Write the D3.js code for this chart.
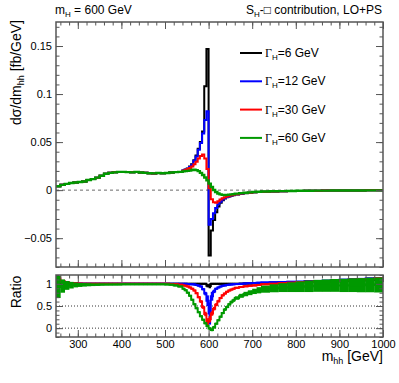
<!DOCTYPE html>
<html>
<head>
<meta charset="utf-8">
<script src="https://cdn.jsdelivr.net/npm/d3@7"></script>
<style>
  body { margin: 0; background: #fff; }
  text { font-family: "Liberation Sans", Arial, sans-serif; }
</style>
</head>
<body>
<script>
// bin low edges (GeV), last edge = 1000
let binLo = [].concat(
    d3.range(250, 540, 10),
    d3.range(540, 660, 5),
    d3.range(660, 720, 10),
    d3.range(720, 1000, 20));
let xMax = 1000;

let seriesNames = ["6", "12", "30", "60"];
let seriesColors = ["#000000", "#0000ff", "#ff0000", "#009900"];

// dsigma/dm_hh [fb/GeV]
let width6 = [
    0.004, 0.0055, 0.0065, 0.0075, 0.008, 0.0085, 0.009, 0.0105, 0.0115, 0.013, 0.015, 0.017, 0.018, 0.0185, 0.019,
    0.019, 0.0188, 0.0185, 0.019, 0.0183, 0.018, 0.0176, 0.0174, 0.0178, 0.0175, 0.0179, 0.0183, 0.0188, 0.019,
    0.0205, 0.0215, 0.0225, 0.0245, 0.027, 0.031, 0.036, 0.043, 0.05, 0.061, 0.108, 0.147,
    -0.068, -0.042, -0.031, -0.023, -0.017, -0.013, -0.0105, -0.0088, -0.0075, -0.0065, -0.0058, -0.0052,
    -0.0045, -0.0038, -0.0032, -0.0027, -0.0023, -0.002,
    -0.0017, -0.0014, -0.0012, -0.001, -0.0008, -0.0007, -0.0006, -0.0005, -0.0004, -0.0004, -0.0003, -0.0003, -0.0002, -0.0002];
let width12 = [
    0.004, 0.0055, 0.0065, 0.0075, 0.008, 0.0085, 0.009, 0.0105, 0.0115, 0.013, 0.015, 0.017, 0.018, 0.0185, 0.019,
    0.019, 0.0188, 0.0185, 0.019, 0.0183, 0.018, 0.0176, 0.0174, 0.0178, 0.0175, 0.0179, 0.0183, 0.0188, 0.019,
    0.0205, 0.0213, 0.0222, 0.024, 0.0265, 0.0305, 0.035, 0.042, 0.049, 0.059, 0.073, 0.082,
    -0.036, -0.03, -0.024, -0.0185, -0.0148, -0.012, -0.0098, -0.0083, -0.0072, -0.0063, -0.0056, -0.005,
    -0.0044, -0.0037, -0.0031, -0.0026, -0.0022, -0.0019,
    -0.0016, -0.0014, -0.0012, -0.001, -0.0008, -0.0007, -0.0006, -0.0005, -0.0004, -0.0004, -0.0003, -0.0003, -0.0002, -0.0002];
let width30 = [
    0.004, 0.0055, 0.0065, 0.0075, 0.008, 0.0085, 0.009, 0.0105, 0.0115, 0.013, 0.015, 0.017, 0.018, 0.0185, 0.019,
    0.019, 0.0188, 0.0185, 0.019, 0.0183, 0.018, 0.0176, 0.0174, 0.0178, 0.0175, 0.0179, 0.0183, 0.0188, 0.019,
    0.0202, 0.021, 0.022, 0.023, 0.0245, 0.027, 0.0295, 0.033, 0.0355, 0.037, 0.033, 0.022,
    0.002, -0.0095, -0.0125, -0.013, -0.0115, -0.0098, -0.0085, -0.0074, -0.0065, -0.0058, -0.0052, -0.0047,
    -0.0042, -0.0036, -0.003, -0.0026, -0.0022, -0.0019,
    -0.0016, -0.0013, -0.0011, -0.001, -0.0008, -0.0007, -0.0006, -0.0005, -0.0004, -0.0004, -0.0003, -0.0003, -0.0002, -0.0002];
let width60 = [
    0.004, 0.0055, 0.0065, 0.0075, 0.008, 0.0085, 0.009, 0.0105, 0.0115, 0.013, 0.015, 0.017, 0.018, 0.0185, 0.019,
    0.019, 0.0188, 0.0185, 0.019, 0.0183, 0.018, 0.0176, 0.0174, 0.0178, 0.0175, 0.0179, 0.0183, 0.0188, 0.019,
    0.0195, 0.0198, 0.02, 0.0203, 0.021, 0.0212, 0.0208, 0.0198, 0.018, 0.0158, 0.0132, 0.0102,
    0.0068, 0.0032, 0.0002, -0.002, -0.0035, -0.0044, -0.0049, -0.005, -0.0049, -0.0047, -0.0044, -0.0041,
    -0.0036, -0.0031, -0.0027, -0.0023, -0.002, -0.0017,
    -0.0014, -0.0012, -0.001, -0.0009, -0.0007, -0.0006, -0.0005, -0.0005, -0.0004, -0.0003, -0.0003, -0.0003, -0.0002, -0.0002];

// ratio panel: central values and half widths of the bands
let ratio6 = [
    1.05, 1.02, 1.01, 1.005, 1, 1, 1, 1, 1, 1, 1, 1, 1, 1, 1,
    1, 1, 1, 1, 1, 1, 1, 1, 1, 1, 1, 1, 1, 1,
    1, 1, 1, 1, 1, 1, 1, 1, 1, 1, 1, 0.96,
    0.95, 1, 1, 1, 1, 1, 1, 1, 1, 1, 1, 1,
    1, 1.005, 1.01, 1.01, 1.015, 1.02,
    1.02, 1.025, 1.03, 1.035, 1.04, 1.045, 1.05, 1.055, 1.06, 1.07, 1.075, 1.08, 1.09, 1.1];
let err6 = [
    0.04, 0.02, 0.015, 0.01, 0.008, 0.008, 0.008, 0.008, 0.008, 0.008, 0.008, 0.008, 0.008, 0.008, 0.008,
    0.008, 0.008, 0.008, 0.008, 0.008, 0.008, 0.008, 0.008, 0.008, 0.008, 0.008, 0.008, 0.008, 0.008,
    0.008, 0.008, 0.008, 0.008, 0.008, 0.008, 0.008, 0.008, 0.008, 0.01, 0.02, 0.04,
    0.05, 0.02, 0.01, 0.008, 0.008, 0.008, 0.008, 0.008, 0.008, 0.008, 0.008, 0.008,
    0.01, 0.01, 0.01, 0.01, 0.01, 0.01,
    0.012, 0.012, 0.012, 0.014, 0.014, 0.014, 0.015, 0.015, 0.015, 0.016, 0.016, 0.018, 0.018, 0.02];
let ratio12 = [
    1.1, 1.05, 1.03, 1.015, 1.01, 1.005, 1, 1, 1, 1, 1, 1, 1, 1, 1,
    1, 1, 1, 1, 1, 1, 1, 1, 1, 1, 1, 1, 1, 1,
    1, 1, 0.995, 0.99, 0.99, 0.985, 0.975, 0.96, 0.94, 0.88, 0.78, 0.62,
    0.33, 0.72, 0.83, 0.89, 0.92, 0.94, 0.955, 0.965, 0.975, 0.98, 0.985, 0.99,
    0.995, 1, 1.01, 1.015, 1.02, 1.025,
    1.03, 1.035, 1.04, 1.045, 1.05, 1.06, 1.065, 1.07, 1.08, 1.09, 1.1, 1.11, 1.12, 1.13];
let err12 = [
    0.05, 0.03, 0.02, 0.015, 0.01, 0.01, 0.01, 0.01, 0.01, 0.01, 0.01, 0.01, 0.01, 0.01, 0.01,
    0.01, 0.01, 0.01, 0.01, 0.01, 0.01, 0.01, 0.01, 0.01, 0.01, 0.01, 0.01, 0.01, 0.01,
    0.01, 0.01, 0.01, 0.01, 0.01, 0.012, 0.012, 0.015, 0.02, 0.025, 0.04, 0.12,
    0.25, 0.1, 0.04, 0.02, 0.015, 0.015, 0.015, 0.015, 0.015, 0.015, 0.015, 0.015,
    0.015, 0.015, 0.018, 0.018, 0.02, 0.02,
    0.02, 0.02, 0.02, 0.02, 0.02, 0.022, 0.022, 0.022, 0.022, 0.025, 0.025, 0.025, 0.025, 0.025];
let ratio30 = [
    1.12, 1.06, 1.03, 1.015, 1.01, 1.005, 1, 1, 1, 1, 1, 1, 1, 1, 1,
    1, 1, 1, 1, 1, 1, 1, 1, 1, 1, 1, 0.995, 0.99, 0.98,
    0.965, 0.955, 0.94, 0.92, 0.89, 0.85, 0.79, 0.7, 0.6, 0.47, 0.32, 0.14,
    0.2, 0.33, 0.44, 0.53, 0.61, 0.68, 0.74, 0.78, 0.82, 0.85, 0.87, 0.89,
    0.91, 0.93, 0.945, 0.955, 0.965, 0.975,
    0.99, 1, 1.015, 1.025, 1.035, 1.045, 1.055, 1.06, 1.07, 1.08, 1.09, 1.1, 1.11, 1.12];
let err30 = [
    0.06, 0.03, 0.02, 0.015, 0.012, 0.012, 0.012, 0.012, 0.012, 0.012, 0.012, 0.012, 0.012, 0.012, 0.012,
    0.012, 0.012, 0.012, 0.012, 0.012, 0.012, 0.012, 0.012, 0.012, 0.012, 0.012, 0.012, 0.012, 0.012,
    0.015, 0.015, 0.015, 0.015, 0.02, 0.02, 0.02, 0.025, 0.03, 0.035, 0.05, 0.08,
    0.07, 0.05, 0.04, 0.035, 0.03, 0.025, 0.025, 0.02, 0.02, 0.02, 0.02, 0.02,
    0.02, 0.02, 0.02, 0.02, 0.02, 0.02,
    0.02, 0.02, 0.02, 0.022, 0.022, 0.022, 0.022, 0.025, 0.025, 0.025, 0.025, 0.025, 0.025, 0.025];
let ratio60 = [
    0.93, 0.95, 0.965, 0.97, 0.975, 0.975, 0.978, 0.98, 0.98, 0.982, 0.984, 0.985, 0.986, 0.987, 0.988,
    0.99, 0.99, 0.99, 0.99, 0.99, 0.99, 0.99, 0.99, 0.99, 0.99, 0.988, 0.98, 0.965, 0.94,
    0.89, 0.855, 0.8, 0.73, 0.64, 0.54, 0.45, 0.36, 0.27, 0.19, 0.11, 0.05,
    -0.01, -0.04, 0.02, 0.1, 0.18, 0.26, 0.34, 0.42, 0.48, 0.54, 0.59, 0.63,
    0.68, 0.73, 0.77, 0.8, 0.83, 0.855,
    0.88, 0.9, 0.915, 0.925, 0.935, 0.945, 0.955, 0.96, 0.965, 0.965, 0.97, 0.97, 0.975, 0.975];
let err60 = [
    0.25, 0.15, 0.1, 0.075, 0.055, 0.045, 0.04, 0.035, 0.03, 0.028, 0.025, 0.022, 0.02, 0.02, 0.018,
    0.018, 0.018, 0.018, 0.018, 0.018, 0.018, 0.018, 0.018, 0.018, 0.018, 0.018, 0.018, 0.018, 0.018,
    0.02, 0.02, 0.02, 0.02, 0.02, 0.02, 0.02, 0.02, 0.02, 0.02, 0.025, 0.03,
    0.03, 0.03, 0.03, 0.025, 0.025, 0.025, 0.025, 0.03, 0.03, 0.03, 0.035, 0.035,
    0.04, 0.045, 0.05, 0.055, 0.06, 0.07,
    0.08, 0.09, 0.1, 0.11, 0.12, 0.13, 0.135, 0.14, 0.145, 0.15, 0.155, 0.16, 0.165, 0.17];

let mainValues = [width6, width12, width30, width60];
let ratioValues = [ratio6, ratio12, ratio30, ratio60];
let ratioErrors = [err6, err12, err30, err60];

let xMajor = [300, 400, 500, 600, 700, 800, 900, 1000];
let xMinor = d3.range(260, 1000, 20);
let yMajor = [-0.05, 0, 0.05, 0.1, 0.15];
let yMinor = d3.range(-0.08, 0.176, 0.01);
let rMajor = [0, 0.5, 1];
let rMinor = d3.range(-0.2, 1.21, 0.1);

let w = 399, h = 383;
let left = 56, right = 383;
let topY0 = 22, topY1 = 267;
let ratY0 = 275, ratY1 = 337;

let svg = d3.select("body").append("svg")
    .attr("width", w)
    .attr("height", h);

let x = d3.scaleLinear().domain([250, 1000]).range([left, right]);
let y = d3.scaleLinear().domain([-0.08, 0.175]).range([topY1, topY0]);
let yr = d3.scaleLinear().domain([-0.2, 1.2]).range([ratY1, ratY0]);

svg.append("clipPath").attr("id", "clipTop")
    .append("rect").attr("x", left).attr("y", topY0).attr("width", right - left).attr("height", topY1 - topY0);
svg.append("clipPath").attr("id", "clipRat")
    .append("rect").attr("x", left).attr("y", ratY0).attr("width", right - left).attr("height", ratY1 - ratY0);

let binHi = function(i) { return i + 1 < binLo.length ? binLo[i + 1] : xMax; };

let stepPoints = function(vals) {
    let pts = binLo.map(function(lo, i) { return [lo, vals[i]]; });
    pts.push([xMax, vals[vals.length - 1]]);
    return pts;
};

/************** upper panel **************/
svg.append("line")
    .attr("x1", left).attr("x2", right)
    .attr("y1", y(0)).attr("y2", y(0))
    .attr("stroke", "#444").attr("stroke-width", 0.8)
    .attr("stroke-dasharray", "3,3");

let line = d3.line()
    .x(function(d) { return x(d[0]); })
    .y(function(d) { return y(d[1]); })
    .curve(d3.curveStepAfter);

let gTop = svg.append("g").attr("clip-path", "url(#clipTop)");
mainValues.forEach(function(vals, k) {
    gTop.append("path")
        .attr("d", line(stepPoints(vals)))
        .attr("fill", "none")
        .attr("stroke", seriesColors[k])
        .attr("stroke-width", k == 3 ? 2.4 : 2);
});

/************** ratio panel **************/
rMajor.forEach(function(v) {
    svg.append("line")
        .attr("x1", left).attr("x2", right)
        .attr("y1", yr(v)).attr("y2", yr(v))
        .attr("stroke", "#000").attr("stroke-width", 0.8)
        .attr("stroke-dasharray", "1,2");
});

let rline = d3.line()
    .x(function(d) { return x(d[0]); })
    .y(function(d) { return yr(d[1]); })
    .curve(d3.curveStepAfter);

let gRat = svg.append("g").attr("clip-path", "url(#clipRat)");
ratioValues.forEach(function(vals, k) {
    let errs = ratioErrors[k];
    gRat.selectAll(null)
        .data(binLo)
        .enter()
        .append("rect")
        .attr("x", function(lo) { return x(lo); })
        .attr("width", function(lo, i) { return x(binHi(i)) - x(lo) + 0.3; })
        .attr("y", function(lo, i) { return Math.min(yr(vals[i] + errs[i]), yr(vals[i]) - 1); })
        .attr("height", function(lo, i) { return Math.max(yr(vals[i] - errs[i]) - yr(vals[i] + errs[i]), 2); })
        .attr("fill", seriesColors[k]);
    gRat.append("path")
        .attr("d", rline(stepPoints(vals)))
        .attr("fill", "none")
        .attr("stroke", seriesColors[k])
        .attr("stroke-width", 2);
});

/************** axes **************/
let frame = function(y0, y1) {
    svg.append("rect")
        .attr("x", left).attr("y", y0)
        .attr("width", right - left).attr("height", y1 - y0)
        .attr("fill", "none").attr("stroke", "#555").attr("stroke-width", 1.5);
};
frame(topY0, topY1);
frame(ratY0, ratY1);

let styleAxis = function(g) {
    g.select(".domain").remove();
    g.selectAll(".tick line").attr("stroke", "#555");
    g.selectAll("text").attr("font-size", "11px").attr("fill", "#000")
        .attr("font-family", "'Liberation Sans', Arial, sans-serif");
};

let addAxis = function(axis, tx, ty) {
    svg.append("g").attr("transform", "translate(" + tx + "," + ty + ")").call(axis).call(styleAxis);
};

let fmt = function(d) { return d3.format("~g")(d).replace("-", "\u2212"); };

// x ticks on both panels
[[topY0, topY1], [ratY0, ratY1]].forEach(function(p, j) {
    addAxis(d3.axisBottom(x).tickValues(xMajor).tickSize(-7).tickPadding(3)
        .tickFormat(j == 1 ? d3.format("d") : ""), 0, p[1]);
    addAxis(d3.axisBottom(x).tickValues(xMinor).tickSize(-3.5).tickFormat(""), 0, p[1]);
    addAxis(d3.axisTop(x).tickValues(xMajor).tickSize(-7).tickFormat(""), 0, p[0]);
    addAxis(d3.axisTop(x).tickValues(xMinor).tickSize(-3.5).tickFormat(""), 0, p[0]);
});

addAxis(d3.axisLeft(y).tickValues(yMajor).tickSize(-7).tickPadding(4).tickFormat(fmt), left, 0);
addAxis(d3.axisLeft(y).tickValues(yMinor).tickSize(-3.5).tickFormat(""), left, 0);
addAxis(d3.axisRight(y).tickValues(yMajor).tickSize(-7).tickFormat(""), right, 0);
addAxis(d3.axisRight(y).tickValues(yMinor).tickSize(-3.5).tickFormat(""), right, 0);

addAxis(d3.axisLeft(yr).tickValues(rMajor).tickSize(-7).tickPadding(4).tickFormat(fmt), left, 0);
addAxis(d3.axisLeft(yr).tickValues(rMinor).tickSize(-3.5).tickFormat(""), left, 0);
addAxis(d3.axisRight(yr).tickValues(rMajor).tickSize(-7).tickFormat(""), right, 0);
addAxis(d3.axisRight(yr).tickValues(rMinor).tickSize(-3.5).tickFormat(""), right, 0);

/************** texts **************/
let t1 = svg.append("text").attr("x", 55).attr("y", 14).attr("font-size", "12px");
t1.append("tspan").text("m");
t1.append("tspan").attr("font-size", "8px").attr("dy", 3).text("H");
t1.append("tspan").attr("dy", -3).text(" = 600 GeV");

let t2 = svg.append("text").attr("x", 382).attr("y", 14).attr("font-size", "12px").attr("text-anchor", "end");
t2.append("tspan").text("S");
t2.append("tspan").attr("font-size", "8px").attr("dy", 3).text("H");
t2.append("tspan").attr("dy", -3).text("-\u25A1 contribution, LO+PS");

let yt = svg.append("text")
    .attr("transform", "translate(21,20) rotate(-90)")
    .attr("text-anchor", "end")
    .attr("font-size", "14px");
yt.append("tspan").text("d\u03C3/dm");
yt.append("tspan").attr("font-size", "9px").attr("dy", 3).text("hh");
yt.append("tspan").attr("dy", -3).text(" [fb/GeV]");

svg.append("text")
    .attr("transform", "translate(21,292) rotate(-90)")
    .attr("text-anchor", "middle")
    .attr("font-size", "14px")
    .text("Ratio");

let xt = svg.append("text").attr("x", 383).attr("y", 361).attr("text-anchor", "end").attr("font-size", "14px");
xt.append("tspan").text("m");
xt.append("tspan").attr("font-size", "9px").attr("dy", 3).text("hh");
xt.append("tspan").attr("dy", -3).text(" [GeV]");

/************** legend **************/
seriesNames.forEach(function(name, k) {
    let ly = 53 + k * 28.3;
    svg.append("line")
        .attr("x1", 240).attr("x2", 262)
        .attr("y1", ly).attr("y2", ly)
        .attr("stroke", seriesColors[k]).attr("stroke-width", 2);
    let lt = svg.append("text").attr("x", 265).attr("y", ly + 4).attr("font-size", "12px");
    lt.append("tspan").attr("font-family", "'Liberation Serif', 'Times New Roman', serif").text("\u0393");
    lt.append("tspan").attr("font-size", "8px").attr("dy", 3).text("H");
    lt.append("tspan").attr("dy", -3).text("=" + name + " GeV");
});
</script>
</body>
</html>
